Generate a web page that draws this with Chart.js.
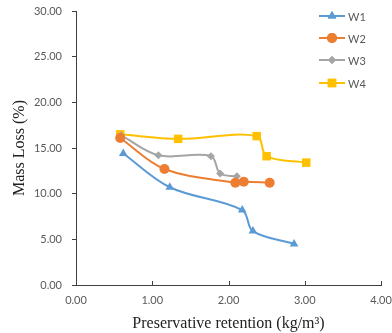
<!DOCTYPE html>
<html><head><meta charset="utf-8">
<script src="https://cdn.jsdelivr.net/npm/chart.js@4/dist/chart.umd.min.js"></script>
<style>html,body{margin:0;padding:0;background:#fff}#wrap{width:392px;height:333px}</style>
</head><body><div id="wrap"><canvas id="c" width="392" height="333"></canvas></div>
<script>
const seriesNames = ["W1", "W2", "W3", "W4"];
const w1x = [0.62, 1.23, 2.18, 2.32, 2.86];
const w1y = [14.4, 10.7, 8.2, 5.9, 4.5];
const w2x = [0.58, 1.16, 2.09, 2.20, 2.54];
const w2y = [16.1, 12.7, 11.2, 11.3, 11.2];
const w3x = [0.59, 1.08, 1.77, 1.89, 2.11];
const w3y = [16.4, 14.2, 14.1, 12.2, 11.9];
const w4x = [0.58, 1.34, 2.37, 2.50, 3.02];
const w4y = [16.5, 16.0, 16.3, 14.1, 13.4];
const yTicks = [0, 5, 10, 15, 20, 25, 30];
const xTicks = [0, 1, 2, 3, 4];
const colors = ["#5B9BD5", "#ED7D31", "#A5A5A5", "#FFC000"];
const shapes = ["triangle", "circle", "rectRot", "rect"];
const radii = [5, 5, 4, 6];

const xs = [w1x, w2x, w3x, w4x], ys = [w1y, w2y, w3y, w4y];
const datasets = seriesNames.map((n, i) => ({
  label: n,
  data: xs[i].map((x, j) => ({x: x, y: ys[i][j]})),
  borderColor: colors[i], backgroundColor: colors[i],
  pointStyle: shapes[i], pointRadius: radii[i], pointHoverRadius: radii[i],
  borderWidth: 2, pointBorderWidth: 0, showLine: true, tension: 0.35
}));

const legendPlugin = {
  id: 'customLegend',
  afterDraw(chart) {
    const ctx = chart.ctx;
    const ys0 = [16, 38, 60, 83];
    chart.data.datasets.forEach((ds, i) => {
      const y = ys0[i];
      ctx.save();
      ctx.strokeStyle = ds.borderColor; ctx.lineWidth = 2;
      ctx.beginPath(); ctx.moveTo(319, y); ctx.lineTo(345, y); ctx.stroke();
      ctx.fillStyle = ds.backgroundColor;
      ctx.beginPath();
      Chart.helpers.drawPoint(ctx, {pointStyle: ds.pointStyle, radius: ds.pointRadius, borderWidth: 0, rotation: 0}, 332, y);
      ctx.fill();
      ctx.fillStyle = '#595959';
      ctx.font = '11px Lato, "Liberation Sans", sans-serif';
      ctx.textBaseline = 'middle'; ctx.textAlign = 'left';
      ctx.fillText(ds.label, 348, y + 1);
      ctx.restore();
    });
    // x-axis tick marks pointing into the plot
    const xs = chart.scales.x, ctx2 = chart.ctx;
    ctx2.save();
    ctx2.strokeStyle = '#404040'; ctx2.lineWidth = 1;
    xs.ticks.forEach(t => {
      const px = Math.round(xs.getPixelForValue(t.value)) + 0.5;
      ctx2.beginPath(); ctx2.moveTo(px, xs.top); ctx2.lineTo(px, xs.top - 4); ctx2.stroke();
    });
    ctx2.restore();
  }
};

new Chart(document.getElementById('c'), {
  type: 'scatter',
  data: { datasets },
  options: {
    responsive: false, animation: false,
    layout: { padding: { top: 0, right: 0, left: 0, bottom: 0 } },
    plugins: { legend: { display: false }, tooltip: { enabled: false } },
    scales: {
      x: {
        type: 'linear', min: 0, max: 4,
        afterBuildTicks(s) { s.ticks = xTicks.map(v => ({value: v})); },
        afterFit(s) { s.height = 48; s.paddingRight = 11; s.paddingLeft = 0; },
        border: { display: true, color: '#404040', width: 1 },
        grid: { display: false, drawOnChartArea: false, tickLength: 0 },
        ticks: { color: '#595959', font: { family: 'Lato, "Liberation Sans", sans-serif', size: 11 }, padding: 9, callback: v => v.toFixed(2), maxRotation: 0 },
        title: { display: true, text: 'Preservative retention (kg/m³)', color: '#222', font: { family: '"Liberation Serif", serif', size: 16 }, padding: { top: 2, bottom: 0 } }
      },
      y: {
        min: 0, max: 30,
        afterBuildTicks(s) { s.ticks = yTicks.map(v => ({value: v})); },
        afterFit(s) { s.width = 76; s.paddingTop = 11; s.paddingBottom = 0; },
        border: { display: true, color: '#404040', width: 1 },
        grid: { display: true, drawOnChartArea: false, tickLength: 4, color: '#404040' },
        ticks: { color: '#595959', font: { family: 'Lato, "Liberation Sans", sans-serif', size: 11 }, padding: 10, callback: v => v.toFixed(2) },
        title: { display: true, text: 'Mass Loss (%)', color: '#222', font: { family: '"Liberation Serif", serif', size: 16 }, padding: { top: 10, bottom: 0 } }
      }
    }
  },
  plugins: [legendPlugin]
});
</script></body></html>
